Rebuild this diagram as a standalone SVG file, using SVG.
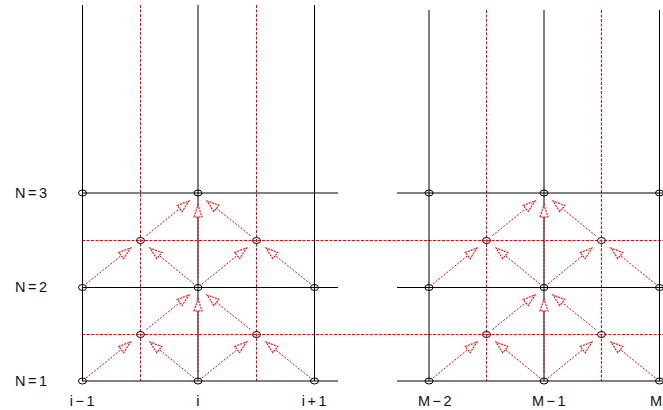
<svg xmlns="http://www.w3.org/2000/svg" width="663" height="410" viewBox="0 0 663 410">
<defs>
<style>
.g{stroke:#000;stroke-width:1;fill:none}
.r{stroke:#f00;stroke-width:1;stroke-dasharray:3 1.5;fill:none}
.a{stroke:#f00;stroke-width:1;stroke-dasharray:2 1.5;fill:none;marker-end:url(#ah)}
.n{stroke:#000;stroke-width:1;fill:none}
.t{font-family:"Liberation Sans",Arial,sans-serif;font-size:14.5px;fill:#111;letter-spacing:2.5px}
</style>
<marker id="ah" markerUnits="userSpaceOnUse" markerWidth="16" markerHeight="12" refX="13" refY="6" orient="auto" overflow="visible">
<path d="M1,2 L13,6 L1,10 Z" fill="#fff" stroke="#f00" stroke-width="1.1" stroke-dasharray="2 1"/>
</marker>
</defs>
<rect width="663" height="410" fill="#fff"/>
<g id="grid">
<line class="r" x1="82" y1="240.5" x2="663" y2="240.5"/>
<line class="r" x1="82" y1="334.5" x2="663" y2="334.5"/>
<line class="r" x1="140.5" y1="5" x2="140.5" y2="381"/>
<line class="r" x1="256.5" y1="5" x2="256.5" y2="381"/>
<line class="r" x1="486.5" y1="10" x2="486.5" y2="381"/>
<line class="r" x1="601.5" y1="10" x2="601.5" y2="381"/>
<line class="g" x1="82.5" y1="5" x2="82.5" y2="381"/>
<line class="g" x1="198" y1="5" x2="198" y2="381"/>
<line class="g" x1="314.5" y1="5" x2="314.5" y2="381"/>
<line class="g" x1="429" y1="10" x2="429" y2="381"/>
<line class="g" x1="544" y1="10" x2="544" y2="381"/>
<line class="g" x1="659.5" y1="10" x2="659.5" y2="381"/>
<line class="g" x1="82" y1="193" x2="338" y2="193"/>
<line class="g" x1="82" y1="287.5" x2="338" y2="287.5"/>
<line class="g" x1="82" y1="381" x2="338" y2="381"/>
<line class="g" x1="397" y1="193" x2="663" y2="193"/>
<line class="g" x1="397" y1="287.5" x2="663" y2="287.5"/>
<line class="g" x1="397" y1="381" x2="663" y2="381"/>
</g>
<g id="connectors">
<line class="a" x1="86" y1="378" x2="130.5" y2="342"/>
<line class="a" x1="194" y1="378" x2="150" y2="342"/>
<line class="a" x1="202" y1="378" x2="246.5" y2="342"/>
<line class="a" x1="310.5" y1="378" x2="266" y2="342"/>
<line class="a" x1="146.5" y1="329.5" x2="189" y2="295"/>
<line class="a" x1="250.5" y1="329.5" x2="207" y2="295"/>
<line class="a" x1="198" y1="372" x2="198" y2="299"/>
<line class="a" x1="86" y1="284" x2="130.5" y2="248"/>
<line class="a" x1="194" y1="284" x2="150" y2="248"/>
<line class="a" x1="202" y1="284" x2="246.5" y2="248"/>
<line class="a" x1="310.5" y1="284" x2="266" y2="248"/>
<line class="a" x1="146.5" y1="235.5" x2="189" y2="201"/>
<line class="a" x1="250.5" y1="235.5" x2="207" y2="201"/>
<line class="a" x1="198" y1="278" x2="198" y2="205"/>
<line class="a" x1="433" y1="378" x2="477" y2="342"/>
<line class="a" x1="540" y1="378" x2="496" y2="342"/>
<line class="a" x1="548" y1="378" x2="592" y2="342"/>
<line class="a" x1="655.5" y1="378" x2="611" y2="342"/>
<line class="a" x1="492.5" y1="329.5" x2="535" y2="295"/>
<line class="a" x1="595.5" y1="329.5" x2="553" y2="295"/>
<line class="a" x1="544" y1="372" x2="544" y2="299"/>
<line class="a" x1="433" y1="284" x2="477" y2="248"/>
<line class="a" x1="540" y1="284" x2="496" y2="248"/>
<line class="a" x1="548" y1="284" x2="592" y2="248"/>
<line class="a" x1="655.5" y1="284" x2="611" y2="248"/>
<line class="a" x1="492.5" y1="235.5" x2="535" y2="201"/>
<line class="a" x1="595.5" y1="235.5" x2="553" y2="201"/>
<line class="a" x1="544" y1="278" x2="544" y2="205"/>
</g>
<g id="nodes">
<g id="n-im1-3"><ellipse class="n" cx="82.5" cy="193" rx="4" ry="3"/></g>
<g id="n-i-3"><ellipse class="n" cx="198" cy="193" rx="4" ry="3"/></g>
<g id="n-im1-2"><ellipse class="n" cx="82.5" cy="287.5" rx="4" ry="3"/></g>
<g id="n-i-2"><ellipse class="n" cx="198" cy="287.5" rx="4" ry="3"/></g>
<g id="n-ip1-2"><ellipse class="n" cx="314.5" cy="287.5" rx="4" ry="3"/></g>
<g id="n-im1-1"><ellipse class="n" cx="82.5" cy="381" rx="4" ry="3"/></g>
<g id="n-i-1"><ellipse class="n" cx="198" cy="381" rx="4" ry="3"/></g>
<g id="n-ip1-1"><ellipse class="n" cx="314.5" cy="381" rx="4" ry="3"/></g>
<g id="h-l-a"><ellipse class="n" cx="140.5" cy="240.5" rx="4" ry="3"/></g>
<g id="h-l-b"><ellipse class="n" cx="256.5" cy="240.5" rx="4" ry="3"/></g>
<g id="h-l-c"><ellipse class="n" cx="140.5" cy="334.5" rx="4" ry="3"/></g>
<g id="h-l-d"><ellipse class="n" cx="256.5" cy="334.5" rx="4" ry="3"/></g>
<g id="n-m2-3"><ellipse class="n" cx="429" cy="193" rx="4" ry="3"/></g>
<g id="n-m1-3"><ellipse class="n" cx="544" cy="193" rx="4" ry="3"/></g>
<g id="n-m-3"><ellipse class="n" cx="659.5" cy="193" rx="4" ry="3"/></g>
<g id="n-m2-2"><ellipse class="n" cx="429" cy="287.5" rx="4" ry="3"/></g>
<g id="n-m1-2"><ellipse class="n" cx="544" cy="287.5" rx="4" ry="3"/></g>
<g id="n-m-2"><ellipse class="n" cx="659.5" cy="287.5" rx="4" ry="3"/></g>
<g id="n-m2-1"><ellipse class="n" cx="429" cy="381" rx="4" ry="3"/></g>
<g id="n-m1-1"><ellipse class="n" cx="544" cy="381" rx="4" ry="3"/></g>
<g id="n-m-1"><ellipse class="n" cx="659.5" cy="381" rx="4" ry="3"/></g>
<g id="h-r-a"><ellipse class="n" cx="486.5" cy="240.5" rx="4" ry="3"/></g>
<g id="h-r-b"><ellipse class="n" cx="601.5" cy="240.5" rx="4" ry="3"/></g>
<g id="h-r-c"><ellipse class="n" cx="486.5" cy="334.5" rx="4" ry="3"/></g>
<g id="h-r-d"><ellipse class="n" cx="601.5" cy="334.5" rx="4" ry="3"/></g>
</g>
<g id="labels">
<text class="t" x="15" y="198">N=3</text>
<text class="t" x="15" y="292">N=2</text>
<text class="t" x="15" y="386">N=1</text>
<text class="t" x="83.5" y="406" text-anchor="middle">i−1</text>
<text class="t" x="199" y="406" text-anchor="middle">i</text>
<text class="t" x="315.5" y="406" text-anchor="middle">i+1</text>
<text class="t" x="436" y="406" text-anchor="middle">M−2</text>
<text class="t" x="550" y="406" text-anchor="middle">M−1</text>
<text x="662" y="406" text-anchor="end" style="font-family:'Liberation Sans',Arial,sans-serif;font-size:14.5px;fill:#111">M</text>
</g>
</svg>
